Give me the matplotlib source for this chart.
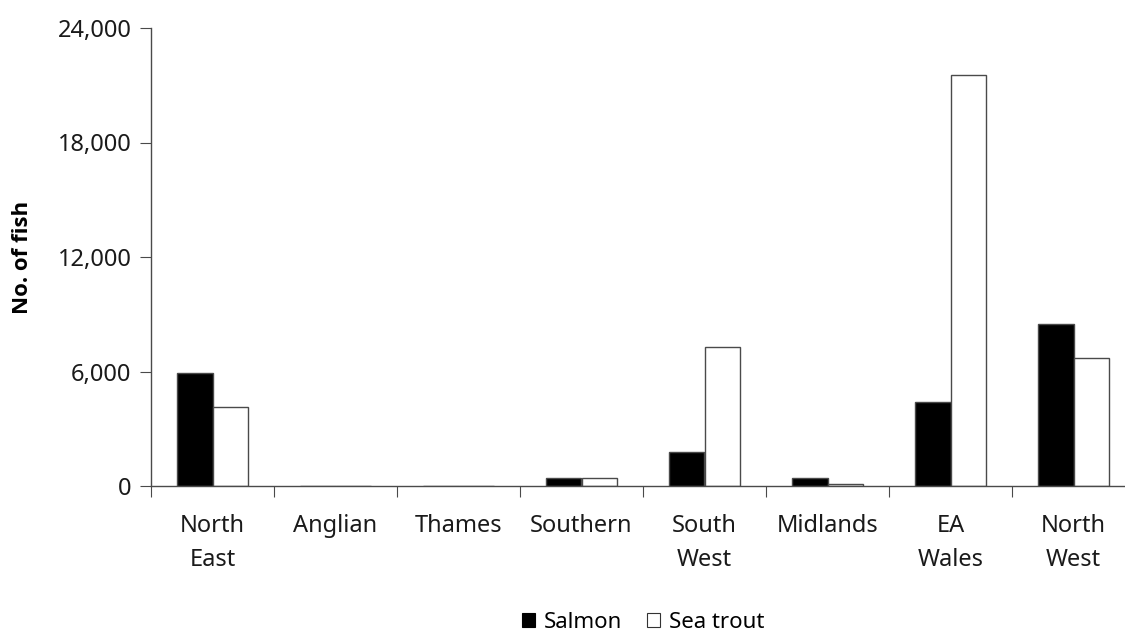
import matplotlib.pyplot as plt
from matplotlib.patches import Patch
from matplotlib.ticker import FuncFormatter
import numpy as np

plt.rcParams["font.family"] = ["Noto Sans", "DejaVu Sans"]

regions = ["North\nEast", "Anglian", "Thames", "Southern", "South\nWest",
           "Midlands", "EA\nWales", "North\nWest"]
salmon = [5920, 0, 0, 420, 1770, 420, 4390, 8470]
sea_trout = [4140, 0, 0, 420, 7290, 100, 21540, 6690]

fig = plt.figure(figsize=(11.25, 6.33), dpi=100)
ax = fig.add_axes([151 / 1125, (633 - 486) / 633, (1135 - 151) / 1125, (486 - 28) / 633])

x = np.arange(len(regions))
w = 0.29
edge = "#4a4a4a"
ax.bar(x - w / 2, salmon, w, color="black", edgecolor=edge, linewidth=1)
ax.bar(x + w / 2, sea_trout, w, color="white", edgecolor=edge, linewidth=1)

ax.set_xlim(-0.5, 7.5)
ax.set_ylim(0, 24000)
ax.set_yticks([0, 6000, 12000, 18000, 24000])
ax.yaxis.set_major_formatter(FuncFormatter(lambda v, p: f"{int(v):,}"))

# category boundaries as major ticks, names as minor ticks
ax.set_xticks(np.arange(len(regions) + 1) - 0.5)
ax.set_xticklabels([])
ax.set_xticks(x, minor=True)
ax.set_xticklabels(regions, minor=True)
ax.tick_params(axis="x", which="minor", length=0, pad=20, labelsize=17, colors="#1a1a1a")
ax.tick_params(axis="x", which="major", length=8, direction="out", color=edge)
ax.tick_params(axis="y", length=8, pad=6, labelsize=17, color=edge, labelcolor="#1a1a1a")
for lbl in ax.get_xticklabels(minor=True):
    lbl.set_linespacing(1.55)

for s in ["top", "right"]:
    ax.spines[s].set_visible(False)
for s in ["left", "bottom"]:
    ax.spines[s].set_color(edge)
    ax.spines[s].set_linewidth(1)

ax.set_ylabel("No. of fish", fontsize=16, fontweight="bold",
              family=["Open Sans", "DejaVu Sans"])
ax.yaxis.set_label_coords(-0.12, 0.5)

handles = [Patch(facecolor="black", edgecolor="black", linewidth=0.8),
           Patch(facecolor="white", edgecolor="#333333", linewidth=0.8)]
fig.legend(handles, ["Salmon", "Sea trout"], loc="center",
           bbox_to_anchor=(643 / 1125, 1 - 622 / 633), ncol=2, frameon=False,
           fontsize=16, handlelength=0.6, handleheight=0.6, handletextpad=0.4,
           columnspacing=1.1)

fig.savefig("out.png", dpi=100)
